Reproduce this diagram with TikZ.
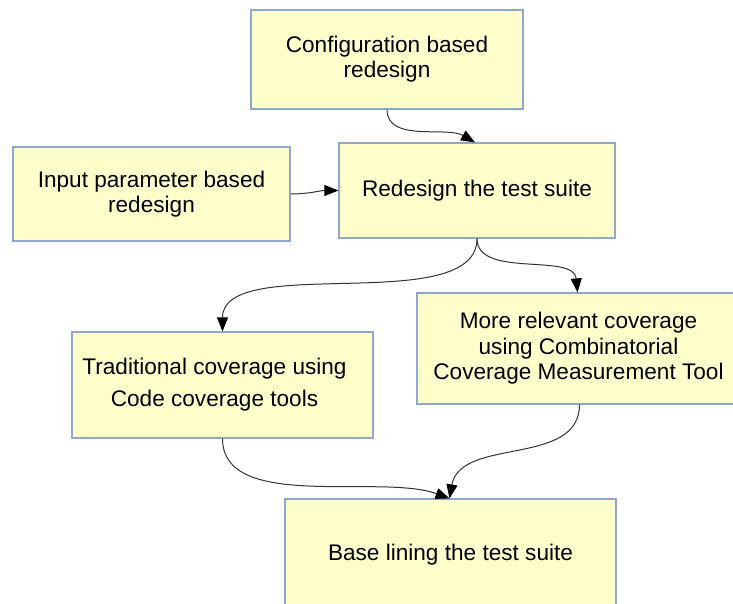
\documentclass[tikz,border=0pt]{standalone}
\usepackage{fontspec}
\setmainfont{Liberation Sans}
\usetikzlibrary{arrows.meta}
\definecolor{boxfill}{HTML}{FFFFCC}
\definecolor{boxline}{HTML}{8FA7CC}
\definecolor{conn}{HTML}{333333}
\tikzset{
  box/.style={draw=boxline, fill=boxfill, line width=1.2pt, inner sep=0pt,
    align=center, font=\fontsize{22.6}{25}\selectfont},
  conn/.style={draw=conn, line width=1pt, -{Triangle[length=14pt,width=11pt,color=black]}},
}
\begin{document}
\begin{tikzpicture}[x=1pt,y=-1pt]
\useasboundingbox (0,0) rectangle (733,604);
\clip (0,0) rectangle (733,604);
\node[box, minimum width=272pt, minimum height=99pt] (cfg) at (387,59.5)
  {Configuration based\\redesign};
\node[box, minimum width=277pt, minimum height=94pt] (inp) at (151.5,194)
  {Input parameter based\\redesign};
\node[box, minimum width=276pt, minimum height=95pt] (red) at (477,190.5)
  {Redesign the test suite};
\node[box, minimum width=301pt, minimum height=106pt] (trad) at (222.5,385)
  {\hspace*{-16pt}\raisebox{-5pt}{\begin{tabular}{@{}c@{}}Traditional coverage using\\[7pt]Code coverage tools\end{tabular}}};
\node[box, minimum width=323pt, minimum height=111pt] (more) at (578.5,348.5)
  {More relevant coverage\\[1pt]using Combinatorial\\Coverage Measurement Tool};
\node[box, minimum width=331pt, minimum height=112pt] (base) at (450.5,555)
  {Base lining the test suite};

\draw[conn] (cfg.south) to[out=-90,in=150,looseness=0.9] ([xshift=-2pt]red.north);
\draw[conn] (inp.east) to[out=0,in=180] (red.west);
\draw[conn] (red.south) to[out=-90,in=90,looseness=0.75] (trad.north);
\draw[conn] (red.south) to[out=-90,in=95,looseness=0.9] ([xshift=-1pt]more.north);
\draw[conn] (trad.south) to[out=-90,in=160,looseness=0.8] ([xshift=-1pt]base.north);
\draw[conn] ([xshift=1pt]more.south) to[out=-90,in=80,looseness=1] ([xshift=-1pt]base.north);
\end{tikzpicture}
\end{document}
